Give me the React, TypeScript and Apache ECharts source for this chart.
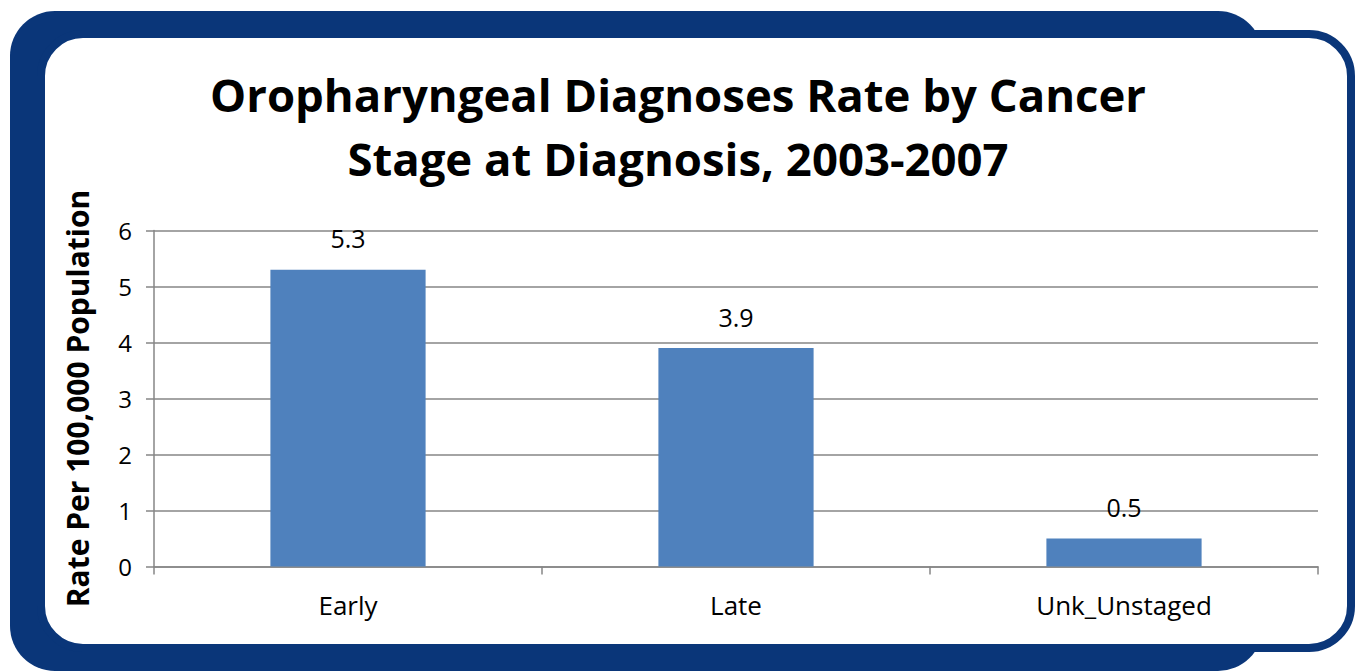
import React, { useEffect, useRef } from "react";
import * as echarts from "echarts";

const categories = ["Early", "Late", "Unk_Unstaged"];
const rates = [5.3, 3.9, 0.5];
const yTicks = [0, 1, 2, 3, 4, 5, 6];
const titleLines = ["Oropharyngeal Diagnoses Rate by Cancer", "Stage at Diagnosis, 2003-2007"];
const yAxisTitle = "Rate Per 100,000 Population";

const FONT = "'Open Sans', Lato, sans-serif";
const NAVY = "#0A3679";
const GRID = "#868686";

export default function App() {
  const ref = useRef<HTMLDivElement>(null);
  useEffect(() => {
    if (!ref.current) return;
    const chart = echarts.init(ref.current, undefined, { renderer: "svg" });
    chart.setOption({
      animation: false,
      backgroundColor: "#ffffff",
      graphic: [
        {
          type: "rect",
          z: -10,
          shape: { x: 10, y: 11, width: 1253, height: 660, r: 45 },
          style: { fill: NAVY },
          silent: true,
        },
        {
          type: "rect",
          z: -9,
          shape: { x: 41, y: 34, width: 1310, height: 614, r: 42 },
          style: { fill: "#ffffff", stroke: NAVY, lineWidth: 8 },
          silent: true,
        },
      ],
      title: {
        text: titleLines.join("\n"),
        left: "center",
        top: 62,
        padding: [0, 0, 0, 14],
        textStyle: {
          fontFamily: FONT,
          fontWeight: "bold",
          fontSize: 45.5,
          lineHeight: 64,
          color: "#000000",
        },
      },
      grid: { left: 154, right: 38, top: 230.5, bottom: 104.5, containLabel: false },
      xAxis: {
        type: "category",
        data: categories,
        axisLine: { show: true, lineStyle: { color: GRID, width: 1.5 } },
        axisTick: { show: true, alignWithLabel: false, length: 8, lineStyle: { color: GRID, width: 1.5 } },
        axisLabel: { fontFamily: FONT, fontSize: 26, color: "#000000", margin: 25 },
      },
      yAxis: {
        type: "value",
        min: yTicks[0],
        max: yTicks[yTicks.length - 1],
        interval: 1,
        name: yAxisTitle,
        nameLocation: "middle",
        nameGap: 62,
        nameTextStyle: { fontFamily: FONT, fontWeight: "bold", fontSize: 30, color: "#000000" },
        axisLine: { show: true, lineStyle: { color: GRID, width: 1.5 } },
        axisTick: { show: true, length: 8, lineStyle: { color: GRID, width: 1.5 } },
        splitLine: { show: true, lineStyle: { color: GRID, width: 1.5 } },
        axisLabel: { fontFamily: FONT, fontSize: 24, color: "#000000", margin: 22 },
      },
      series: [
        {
          type: "bar",
          data: rates,
          barWidth: "40%",
          itemStyle: { color: "#4F81BD" },
          label: {
            show: true,
            position: "top",
            distance: 19,
            fontFamily: FONT,
            fontSize: 25,
            color: "#000000",
          },
        },
      ],
    });
    return () => chart.dispose();
  }, []);
  return (
    <div
      ref={ref}
      style={{ position: "fixed", left: 0, top: 0, width: 1356, height: 671 }}
    />
  );
}
